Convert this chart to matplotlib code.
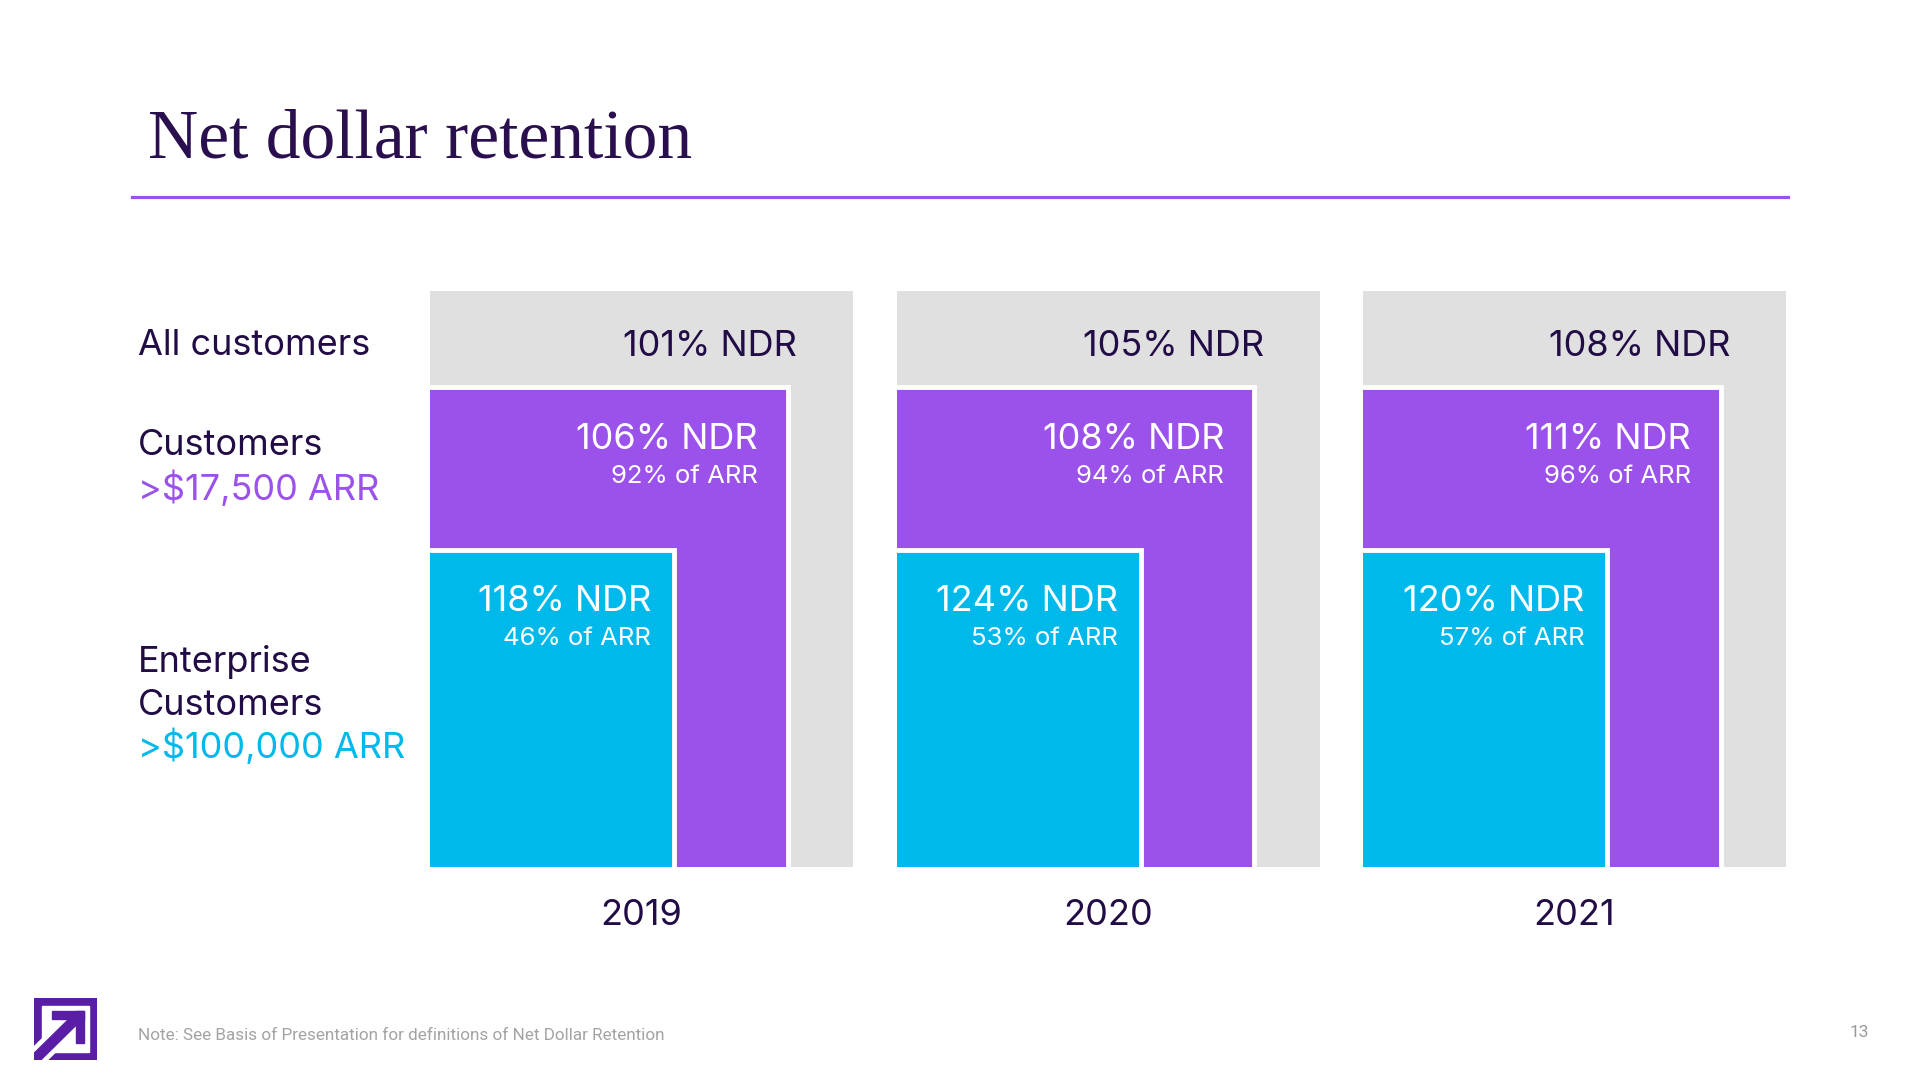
import numpy as np
import matplotlib
matplotlib.use("Agg")
import matplotlib.pyplot as plt
from matplotlib.patches import Rectangle, Polygon

plt.rcParams['font.family'] = ['Inter', 'DejaVu Sans']

# data
years = ['2019', '2020', '2021']
all_ndr = [101, 105, 108]
mid_ndr = [106, 108, 111]
mid_arr = [92, 94, 96]
ent_ndr = [118, 124, 120]
ent_arr = [46, 53, 57]

# colours
DARK = '#220c45'
GREY = '#e0e0e0'
PURPLE = '#9b52ea'
CYAN = '#00b9eb'
LOGO = '#5a1ea6'

W, H = 1920, 1080
fig = plt.figure(figsize=(19.2, 10.8), dpi=100)
fig.patch.set_facecolor('white')

# page furniture
fig.text(148 / W, 1 - 157 / H, 'Net dollar retention', family='Liberation Serif',
         fontsize=50, color='#2a0f4e', ha='left', va='baseline')
fig.add_artist(plt.Line2D([132 / W, 1788 / W], [1 - 197 / H, 1 - 197 / H],
                          color=PURPLE, lw=2.3))

fig.text(138 / W, 1 - 355 / H, 'All customers', fontsize=26, color=DARK, va='baseline')
fig.text(138 / W, 1 - 455 / H, 'Customers', fontsize=26, color=DARK, va='baseline')
fig.text(138 / W, 1 - 500 / H, '>$17,500 ARR', fontsize=26, color=PURPLE, va='baseline')
fig.text(138 / W, 1 - 672 / H, 'Enterprise', fontsize=26, color=DARK, va='baseline')
fig.text(138 / W, 1 - 715 / H, 'Customers', fontsize=26, color=DARK, va='baseline')
fig.text(138 / W, 1 - 758 / H, '>$100,000 ARR', fontsize=26, color=CYAN, va='baseline')

fig.text(138 / W, 1 - 1040 / H,
         'Note: See Basis of Presentation for definitions of Net Dollar Retention',
         family='Roboto', fontsize=12.3, color='#a3a3a3', va='baseline')
fig.text(1859 / W, 1 - 1037 / H, '13', family='Roboto', fontsize=12.5,
         color='#9a9a9a', ha='center', va='baseline')

# nested boxes, one axes per year
panel_left, panel_step, panel_w = 430, 466.5, 423
panel_top, panel_h = 291, 576
tiers = [(1.0, 1.0, GREY), (0.846, 0.834, PURPLE), (0.577, 0.551, CYAN)]

for i, yr in enumerate(years):
    x0 = panel_left + i * panel_step
    ax = fig.add_axes([x0 / W, 1 - (panel_top + panel_h) / H, panel_w / W, panel_h / H])
    ax.set_xlim(0, 1)
    ax.set_ylim(0, 1)
    ax.axis('off')
    for k, (tw, th, col) in enumerate(tiers):
        if k == 0:
            ax.add_patch(Rectangle((0, 0), tw, th, facecolor=col, edgecolor='none'))
        else:
            # start a little outside the panel so only top/right white edges show
            ax.add_patch(Rectangle((-0.05, -0.05), tw + 0.05, th + 0.05, facecolor=col,
                                   edgecolor='white', lw=3.5, clip_on=True))

    ax.text(0.868, 0.887, f'{all_ndr[i]}% NDR', fontsize=26, color=DARK,
            ha='right', va='baseline')
    ax.text(0.775, 0.726, f'{mid_ndr[i]}% NDR', fontsize=26, color='white',
            ha='right', va='baseline')
    ax.text(0.775, 0.666, f'{mid_arr[i]}% of ARR', fontsize=18.5, color='white',
            ha='right', va='baseline')
    ax.text(0.523, 0.445, f'{ent_ndr[i]}% NDR', fontsize=26, color='white',
            ha='right', va='baseline')
    ax.text(0.523, 0.385, f'{ent_arr[i]}% of ARR', fontsize=18.5, color='white',
            ha='right', va='baseline')
    ax.text(0.5, -0.1, yr, fontsize=26, color=DARK, ha='center', va='baseline')

# logo
lax = fig.add_axes([34 / W, 1 - 1060 / H, 63 / W, 62 / H])
lax.set_xlim(0, 1)
lax.set_ylim(0, 1)
lax.axis('off')
t = 0.13
lax.add_patch(Rectangle((0, 0), 1, 1, color=LOGO))
lax.add_patch(Rectangle((t, t), 1 - 2 * t, 1 - 2 * t, color='white'))


def band(p0, p1, hw):
    d = np.array(p1) - np.array(p0)
    d = d / np.hypot(*d)
    n = np.array([-d[1], d[0]])
    return [p0 + n * hw, p1 + n * hw, p1 - n * hw, p0 - n * hw]


lax.add_patch(Polygon(band(np.array([-0.2, -0.2]), np.array([0.74, 0.74]), 0.15),
                      color='white', clip_on=True))
lax.add_patch(Polygon(band(np.array([-0.2, -0.2]), np.array([0.72, 0.72]), 0.075),
                      color=LOGO, clip_on=True))
lax.add_patch(Rectangle((0.28, 0.66), 0.52, 0.13, color=LOGO))
lax.add_patch(Rectangle((0.67, 0.28), 0.13, 0.51, color=LOGO))

fig.savefig('out.png', dpi=100, facecolor='white')
